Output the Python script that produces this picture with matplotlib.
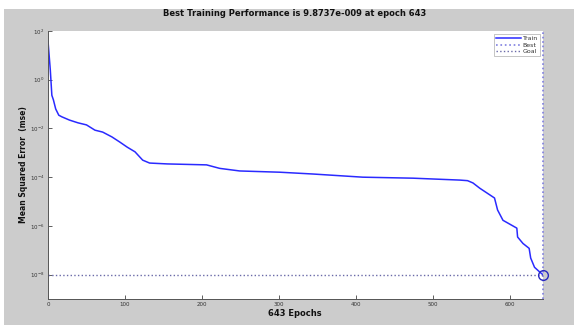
import matplotlib
matplotlib.use("Agg")
import matplotlib.pyplot as plt
from matplotlib.patches import Rectangle
from matplotlib.ticker import FixedLocator, NullLocator

# ---- data ----
epochs = [0, 3, 5, 7, 10, 14, 18, 28, 39, 50, 61, 71, 83, 93, 103, 113, 123, 132,
          155, 206, 223, 249, 301, 344, 409, 474, 535, 545, 552, 561, 580, 584,
          591, 609, 610, 617, 625, 627, 632, 639, 643]
mse = [39, 2.5, 0.23, 0.15, 0.063, 0.035, 0.030, 0.022, 0.017, 0.014, 0.0085,
       0.0071, 0.0045, 0.0028, 0.0017, 0.0011, 5.0e-4, 3.8e-4, 3.5e-4, 3.2e-4,
       2.3e-4, 1.8e-4, 1.6e-4, 1.35e-4, 1.0e-4, 9.1e-5, 7.6e-5, 7.2e-5, 5.8e-5,
       3.5e-5, 1.4e-5, 4.5e-6, 1.7e-6, 8.1e-7, 3.5e-7, 1.9e-7, 1.2e-7, 4.8e-8,
       2.0e-8, 1.26e-8, 9.8737e-9]
best_epoch = 643
best_perf = 9.8737e-9
goal = 1e-8
y_ticks = [1e2, 1e0, 1e-2, 1e-4, 1e-6, 1e-8]
x_ticks = [0, 100, 200, 300, 400, 500, 600]
title = "Best Training Performance is 9.8737e-009 at epoch 643"
xlabel = "643 Epochs"
ylabel = "Mean Squared Error  (mse)"

W, H = 574, 325
fig = plt.figure(figsize=(W / 100, H / 100), dpi=100)
fig.patch.set_facecolor("white")
fig.patches.append(Rectangle((4 / W, 0), 1 - 4 / W, 1 - 9 / H, transform=fig.transFigure,
                             facecolor="#cccccc", edgecolor="none", zorder=-10))

ax = fig.add_axes([48 / W, 1 - 299 / H, (543 - 48) / W, (299 - 31) / H])
ax.set_facecolor("white")

ax.semilogy(epochs, mse, color="#2a2aff", lw=1.1, label="Train")
ax.axvline(best_epoch, color="#7f7fe0", ls=":", lw=1.2, label="Best", clip_on=False)
ax.axhline(goal, color="#6a6aa8", ls=":", lw=1.0, label="Goal")
ax.plot([best_epoch], [best_perf], "o", ms=7, mfc="none", mec="#2828c0", mew=1.0,
        clip_on=False)

ax.set_xlim(0, 643)
ax.set_ylim(1e-9, 1e2)
ax.yaxis.set_major_locator(FixedLocator(y_ticks))
ax.yaxis.set_minor_locator(NullLocator())
ax.set_xticks(x_ticks)
ax.tick_params(direction="in", length=3, width=0.6, labelsize=4, colors="#444444",
               pad=2.5)
ax.tick_params(axis="both", labelcolor="#333333")
for s in ["top", "right"]:
    ax.spines[s].set_visible(False)
for s in ["left", "bottom"]:
    ax.spines[s].set_color("#555555")
    ax.spines[s].set_linewidth(0.7)

leg = ax.legend(loc="upper right", bbox_to_anchor=(1.0, 1.0), fontsize=4.5,
                frameon=True, fancybox=False, handlelength=4, borderpad=0.3,
                labelspacing=0.15, handletextpad=0.3, markerfirst=True)
leg.get_frame().set_edgecolor("#999999")
leg.get_frame().set_linewidth(0.5)
for t in leg.get_texts():
    t.set_color("#333333")

fig.text(295 / W, 1 - 14 / H, title, ha="center", va="center", fontsize=6,
         fontweight="bold", color="#111111")
fig.text(295 / W, 1 - 314 / H, xlabel, ha="center", va="center", fontsize=6,
         fontweight="bold", color="#111111")
fig.text(24 / W, 1 - 165 / H, ylabel, ha="center", va="center", rotation=90,
         fontsize=5.5, fontweight="bold", color="#111111")

fig.savefig("out.png", dpi=100, facecolor=fig.get_facecolor())
